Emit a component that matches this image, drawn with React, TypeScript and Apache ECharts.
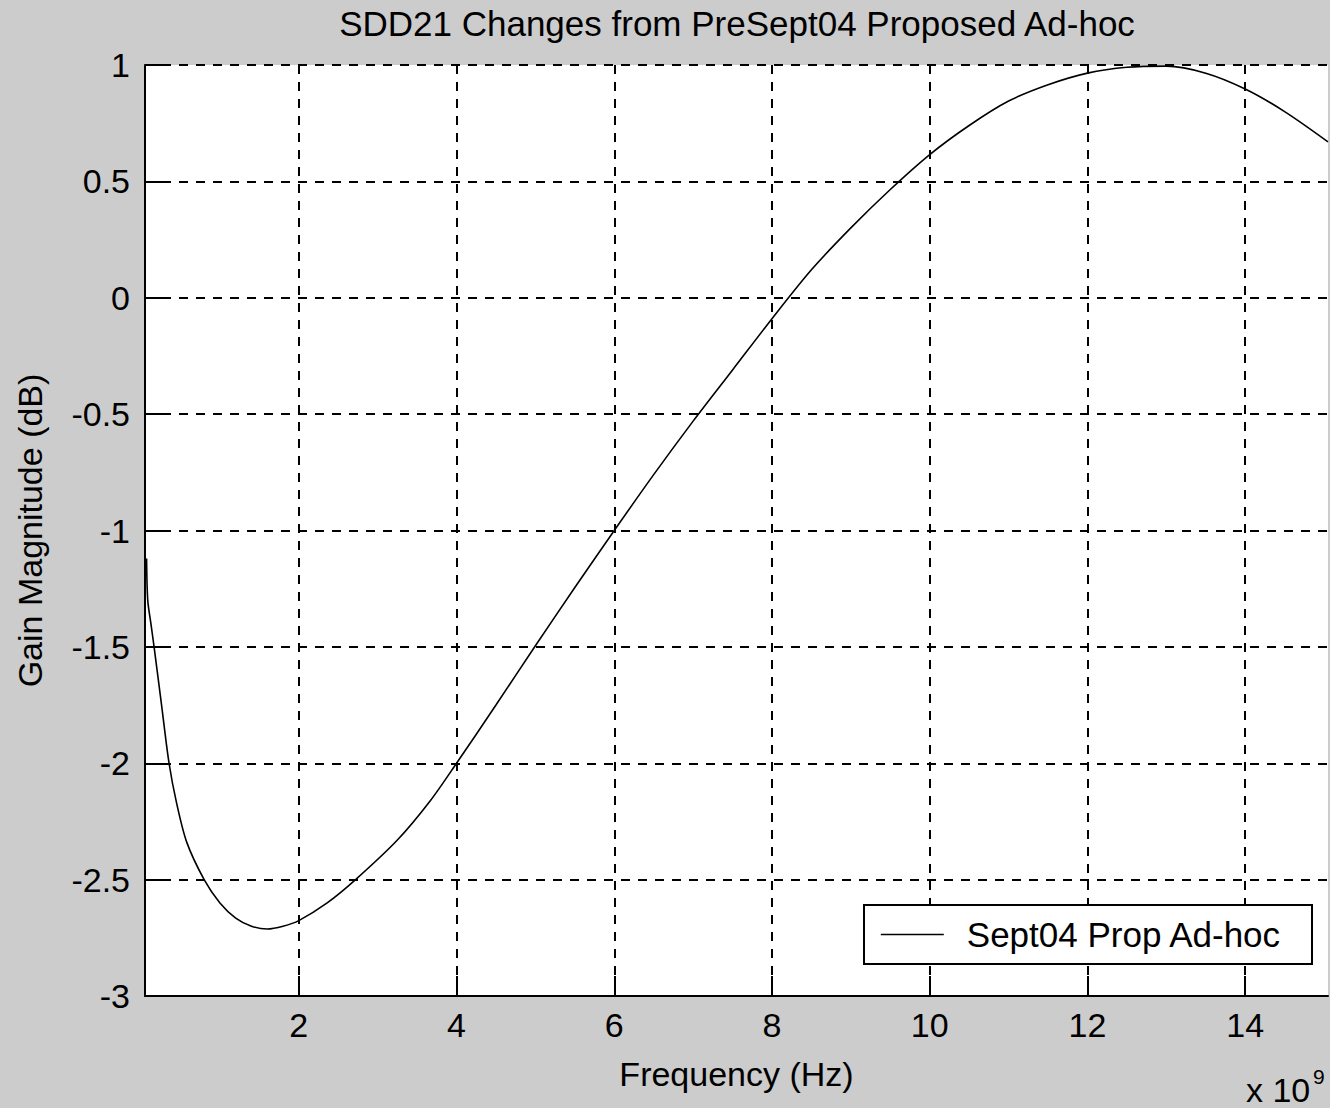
import React, { useEffect, useRef } from "react";
import * as echarts from "echarts";

const titleText = "SDD21 Changes from PreSept04 Proposed Ad-hoc";
const seriesName = "Sept04 Prop Ad-hoc";
const xAxisName = "Frequency (Hz)";
const yAxisName = "Gain Magnitude (dB)";
const exponentBase = "x 10";
const exponentPower = "9";

// Frequency in units of 1e9 Hz
const freqGHz = [
  0.07, 0.085, 0.125, 0.165, 0.26, 0.355, 0.45, 0.58, 0.8, 1.0, 1.2, 1.4, 1.6, 1.8, 2.0,
  2.36, 2.72, 3.25, 3.67, 4.0, 4.5, 5.0, 5.5, 6.0, 6.5, 7.0, 7.5, 8.0, 8.5, 9.0, 9.5, 10.0,
  10.5, 11.0, 11.5, 12.0, 12.5, 13.0, 13.5, 14.0, 14.5, 15.05,
];
const gainDb = [
  -1.12, -1.3, -1.4, -1.5, -1.75, -2.0, -2.17, -2.34, -2.5, -2.6, -2.665, -2.7, -2.712, -2.7,
  -2.676, -2.6, -2.5, -2.33, -2.16, -2.0, -1.75, -1.495, -1.245, -1.0, -0.76, -0.53, -0.31,
  -0.09, 0.12, 0.3, 0.465, 0.615, 0.74, 0.845, 0.915, 0.965, 0.99, 0.995, 0.965, 0.897, 0.8,
  0.67,
];

const X_MIN = 0.05;
const X_MAX = 15.05;
const Y_MIN = -3;
const Y_MAX = 1;
const Y_STEP = 0.5;

const FONT = "'Liberation Sans', Arial, Helvetica, sans-serif";

export default function App() {
  const ref = useRef<HTMLDivElement>(null);

  useEffect(() => {
    document.body.style.margin = "0";
    document.body.style.background = "#cccccc";
    if (!ref.current) return;
    const chart = echarts.init(ref.current, null, { renderer: "svg" });
    const data = freqGHz.map((x, i) => [x, gainDb[i]]);
    const dashed = { color: "#000", width: 2, type: [9, 8] as any };

    chart.setOption({
      animation: false,
      backgroundColor: "#cccccc",
      textStyle: { fontFamily: FONT, color: "#000" },
      title: {
        text: titleText,
        left: 732,
        top: 1,
        textAlign: "center",
        textStyle: { fontFamily: FONT, fontSize: 35, fontWeight: "normal", color: "#000" },
      },
      grid: {
        left: 145,
        top: 65,
        right: 2,
        bottom: 112,
        show: true,
        backgroundColor: "#ffffff",
        borderWidth: 0,
      },
      legend: {
        show: true,
        left: 864,
        top: 905,
        orient: "horizontal",
        backgroundColor: "#ffffff",
        borderColor: "#000",
        borderWidth: 2,
        borderRadius: 0,
        padding: [12, 30, 12, 16],
        itemWidth: 63,
        itemHeight: 14,
        itemStyle: { opacity: 0 },
        lineStyle: { color: "#000", width: 1.6 },
        textStyle: { fontFamily: FONT, fontSize: 35, color: "#000", padding: [0, 0, 0, 18] },
        data: [seriesName],
      },
      xAxis: {
        type: "value",
        min: X_MIN,
        max: X_MAX,
        splitNumber: 7,
        name: xAxisName,
        nameLocation: "middle",
        nameGap: 61,
        nameTextStyle: { fontFamily: FONT, fontSize: 34, color: "#000" },
        axisLine: { show: true, onZero: false, lineStyle: { color: "#000", width: 2 } },
        axisTick: { show: true, inside: true, length: 20, lineStyle: { color: "#000", width: 2 } },
        axisLabel: {
          show: true,
          margin: 12,
          fontFamily: FONT,
          fontSize: 34,
          color: "#000",
          showMinLabel: false,
          showMaxLabel: false,
        },
        splitLine: { show: true, showMinLine: false, showMaxLine: false, lineStyle: dashed },
      },
      yAxis: {
        type: "value",
        min: Y_MIN,
        max: Y_MAX,
        interval: Y_STEP,
        name: yAxisName,
        nameLocation: "middle",
        nameGap: 98,
        nameRotate: 90,
        nameTextStyle: { fontFamily: FONT, fontSize: 34, color: "#000" },
        axisLine: { show: true, onZero: false, lineStyle: { color: "#000", width: 2 } },
        axisTick: { show: true, inside: true, length: 20, lineStyle: { color: "#000", width: 2 } },
        axisLabel: { show: true, margin: 15, fontFamily: FONT, fontSize: 34, color: "#000" },
        splitLine: { show: true, showMinLine: false, lineStyle: dashed },
      },
      graphic: [
        {
          type: "text",
          left: 1246,
          top: 1073,
          style: { text: exponentBase, fontFamily: FONT, fontSize: 34, fill: "#000" },
        },
        {
          type: "text",
          left: 1313,
          top: 1066,
          style: { text: exponentPower, fontFamily: FONT, fontSize: 21, fill: "#000" },
        },
      ],
      series: [
        {
          name: seriesName,
          type: "line",
          data,
          symbol: "none",
          showSymbol: false,
          smooth: 0.3,
          lineStyle: { color: "#000", width: 1.6 },
          itemStyle: { color: "#000" },
          z: 5,
        },
      ],
    });
    return () => chart.dispose();
  }, []);

  return <div ref={ref} style={{ width: 1330, height: 1108 }} />;
}
